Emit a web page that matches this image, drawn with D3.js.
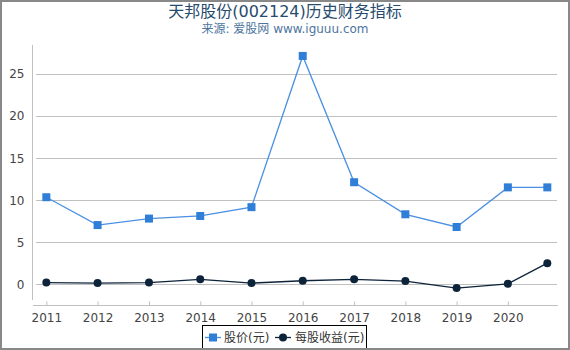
<!DOCTYPE html>
<html>
<head>
<meta charset="utf-8">
<script src="https://cdn.jsdelivr.net/npm/d3@7"></script>
<style>
body { margin: 0; background: #fff; }
svg { display: block; font-family: "DejaVu Sans", "Noto Sans CJK SC", sans-serif; }
</style>
</head>
<body>
<script>
// data
var dates = ['2011-01-01','2012-01-01','2013-01-01','2014-01-01','2015-01-01','2016-01-01',
             '2017-01-01','2018-01-01','2019-01-01','2020-01-01','2020-10-08'];
var price = [10.36, 7.05, 7.82, 8.13, 9.18, 27.15, 12.14, 8.33, 6.82, 11.53, 11.53];
var eps = [0.22, 0.15, 0.22, 0.6, 0.15, 0.43, 0.6, 0.39, -0.44, 0.07, 2.52];
var yTicks = [0, 5, 10, 15, 20, 25];
var xTicks = ['2011','2012','2013','2014','2015','2016','2017','2018','2019','2020'];
var seriesNames = ['股价(元)', '每股收益(元)'];

var W = 570, H = 350;
var parse = d3.timeParse('%Y-%m-%d');

var svg = d3.select('body').append('svg')
    .attr('width', W)
    .attr('height', H);

svg.append('rect')
    .attr('x', 1).attr('y', 1)
    .attr('width', W - 2).attr('height', H - 2)
    .attr('fill', '#fff')
    .attr('stroke', '#888')
    .attr('stroke-width', 2);

var x = d3.scaleTime()
    .domain([parse('2010-09-28'), parse('2020-12-16')])
    .range([33, 557]);
var y = d3.scaleLinear()
    .domain([-2.45, 28.45])
    .range([305, 45]);

// title
svg.append('text')
    .attr('x', W / 2).attr('y', 17)
    .attr('text-anchor', 'middle')
    .attr('fill', '#274b6d')
    .style('font-size', '16px')
    .text('天邦股份(002124)历史财务指标');
svg.append('text')
    .attr('x', W / 2).attr('y', 33)
    .attr('text-anchor', 'middle')
    .attr('fill', '#4d759e')
    .style('font-size', '12px')
    .text('来源: 爱股网 www.iguuu.com');

// grid
svg.append('g').selectAll('line')
    .data(yTicks)
    .enter().append('line')
    .attr('x1', 36).attr('x2', 557)
    .attr('y1', function(d){ return Math.round(y(d)) + 0.5; })
    .attr('y2', function(d){ return Math.round(y(d)) + 0.5; })
    .attr('stroke', '#c0c0c0');

// y axis
var yAxis = svg.append('g')
    .attr('transform', 'translate(32.5,0)')
    .call(d3.axisLeft(y).tickValues(yTicks).tickSize(0).tickPadding(8));
yAxis.select('.domain').attr('stroke', '#c0c0c0').attr('d', 'M0,45V300');
yAxis.selectAll('text').attr('fill', '#444').style('font-size', '12px')
    .style('font-family', '"DejaVu Sans", sans-serif');

// x axis
var xAxis = svg.append('g')
    .attr('transform', 'translate(0,305.5)')
    .call(d3.axisBottom(x)
        .tickValues(xTicks.map(function(d){ return parse(d + '-01-01'); }))
        .tickFormat(d3.timeFormat('%Y'))
        .tickSize(-4).tickPadding(8));
xAxis.select('.domain').attr('stroke', '#c0c0c0').attr('d', 'M33,0H558');
xAxis.selectAll('.tick line').attr('stroke', '#c0c0c0');
xAxis.selectAll('text').attr('fill', '#444').style('font-size', '12px')
    .style('font-family', '"DejaVu Sans", sans-serif');

var line = d3.line()
    .x(function(d){ return x(parse(d.date)); })
    .y(function(d){ return y(d.v); });

var priceData = dates.map(function(d, i){ return {date: d, v: price[i]}; });
var epsData = dates.map(function(d, i){ return {date: d, v: eps[i]}; });

svg.append('path').datum(epsData)
    .attr('d', line).attr('fill', 'none')
    .attr('stroke', '#0d233a').attr('stroke-width', 1.3);
svg.append('g').selectAll('circle')
    .data(epsData).enter().append('circle')
    .attr('cx', function(d){ return x(parse(d.date)); })
    .attr('cy', function(d){ return y(d.v); })
    .attr('r', 4)
    .attr('fill', '#0d233a');

svg.append('path').datum(priceData)
    .attr('d', line).attr('fill', 'none')
    .attr('stroke', '#4a90e2').attr('stroke-width', 1.3);
svg.append('g').selectAll('rect')
    .data(priceData).enter().append('rect')
    .attr('x', function(d){ return x(parse(d.date)) - 4; })
    .attr('y', function(d){ return y(d.v) - 4; })
    .attr('width', 8).attr('height', 8)
    .attr('fill', '#2f7ed8');

// legend
var leg = svg.append('g');
leg.append('rect')
    .attr('x', 202.5).attr('y', 325.5)
    .attr('width', 164).attr('height', 24)
    .attr('fill', '#fff').attr('stroke', '#000');
leg.append('line').attr('x1', 205).attr('x2', 221).attr('y1', 337.5).attr('y2', 337.5)
    .attr('stroke', '#4a90e2').attr('stroke-width', 1.3);
leg.append('rect').attr('x', 209).attr('y', 333.5).attr('width', 8).attr('height', 8)
    .attr('fill', '#2f7ed8');
leg.append('text').attr('x', 224).attr('y', 342)
    .attr('fill', '#333').style('font-size', '12px').text(seriesNames[0]);
leg.append('line').attr('x1', 275).attr('x2', 291).attr('y1', 337.5).attr('y2', 337.5)
    .attr('stroke', '#0d233a').attr('stroke-width', 1.3);
leg.append('circle').attr('cx', 283).attr('cy', 337.5).attr('r', 4)
    .attr('fill', '#0d233a');
leg.append('text').attr('x', 295).attr('y', 342)
    .attr('fill', '#333').style('font-size', '12px').text(seriesNames[1]);

// outer frame drawn again on top so the legend is clipped like the original
svg.append('rect')
    .attr('x', 1).attr('y', 1)
    .attr('width', W - 2).attr('height', H - 2)
    .attr('fill', 'none')
    .attr('stroke', '#888')
    .attr('stroke-width', 2);
</script>
</body>
</html>
